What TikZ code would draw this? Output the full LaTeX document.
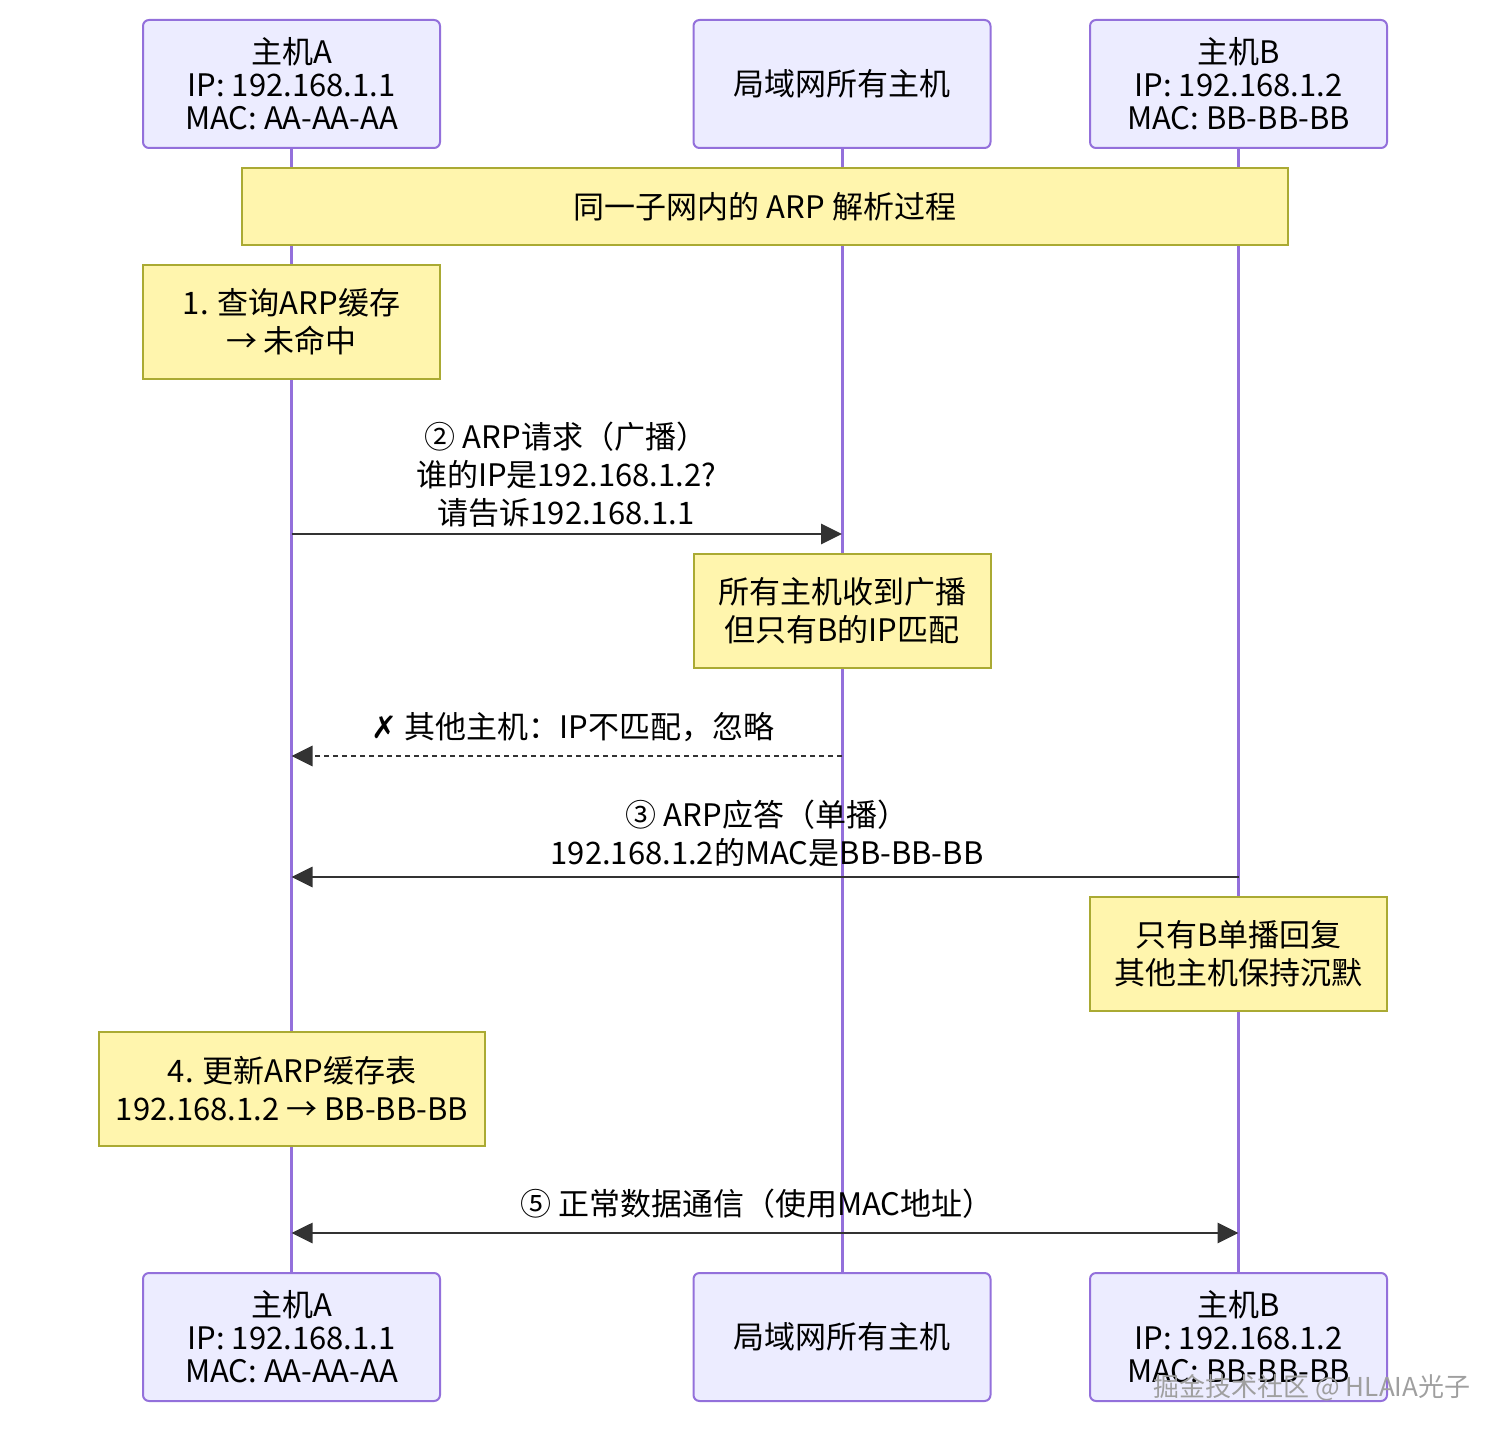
\documentclass[tikz,border=0pt]{standalone}
\usepackage{fontspec}
\setmainfont{Noto Sans CJK SC}
\newfontfamily\symfont{DejaVu Sans}
\usetikzlibrary{arrows.meta}
\definecolor{actorfill}{HTML}{ECECFF}
\definecolor{actorline}{HTML}{9370DB}
\definecolor{notefill}{HTML}{FFF5AD}
\definecolor{noteline}{HTML}{AAAA33}
\definecolor{msgline}{HTML}{333333}
\begin{document}
\begin{tikzpicture}[x=.5pt,y=-.5pt,font=\fontsize{15.5}{19}\selectfont,
actor/.style={draw=actorline,fill=actorfill,line width=1pt,rounded corners=3pt,minimum width=148.5pt,minimum height=64pt,align=center,inner sep=0pt,font=\fontsize{15.5}{16.5}\selectfont},
note/.style={draw=noteline,fill=notefill,line width=1pt,minimum width=148.5pt,minimum height=57pt,align=center,inner sep=0pt},
life/.style={draw=actorline,line width=1.5pt},
msg/.style={draw=msgline,line width=1.4pt,-{Triangle[length=10.5pt,width=10pt]}},
lbl/.style={align=center,inner sep=0pt}]
\useasboundingbox (0,0) rectangle (1502,1438);
\node[actor] (aTop) at (291.5,84) {主机A\\IP: 192.168.1.1\\MAC: AA-AA-AA};
\node[actor] (mTop) at (842,84) {局域网所有主机};
\node[actor] (bTop) at (1238.5,84) {主机B\\IP: 192.168.1.2\\MAC: BB-BB-BB};
\node[actor] (aBot) at (291.5,1337) {主机A\\IP: 192.168.1.1\\MAC: AA-AA-AA};
\node[actor] (mBot) at (842,1337) {局域网所有主机};
\node[actor] (bBot) at (1238.5,1337) {主机B\\IP: 192.168.1.2\\MAC: BB-BB-BB};
\foreach \n in {a,m,b}{\draw[life] (\n Top.south)--(\n Bot.north);}
\node[note,minimum width=523pt,minimum height=38.5pt] (title) at (765,206.5) {同一子网内的 ARP 解析过程};
\node[note] (n1) at (291.5,322) {1. 查询ARP缓存\\→ 未命中};
\node[note] (n2) at (842,611) {所有主机收到广播\\但只有B的IP匹配};
\node[note] (n3) at (1238.5,954) {只有B单播回复\\其他主机保持沉默};
\node[note,minimum width=193pt] (n4) at (292,1088.5) {4. 更新ARP缓存表\\192.168.1.2 → BB-BB-BB};
\coordinate (a2) at (aTop.south |- 0,534);\coordinate (m2) at (mTop.south |- 0,534);
\coordinate (m3) at (mTop.south |- 0,756);\coordinate (a3) at (aTop.south |- 0,756);
\coordinate (b4) at (bTop.south |- 0,877);\coordinate (a4) at (aTop.south |- 0,877);
\coordinate (a5) at (aTop.south |- 0,1233);\coordinate (b5) at (bTop.south |- 0,1233);
\draw[msg] (a2)--(m2);\draw[msg,dash pattern=on 2.5pt off 2pt] (m3)--(a3);
\draw[msg] (b4)--(a4);\draw[msg,{Triangle[length=10.5pt,width=10pt]}-{Triangle[length=10.5pt,width=10pt]}] (a5)--(b5);
\node[lbl] (l2) at (566,475) {② ARP请求（广播）\\谁的IP是192.168.1.2?\\请告诉192.168.1.1};
\node[lbl] (l3) at (573,727) {{\symfont ✗} 其他主机：IP不匹配，忽略};
\node[lbl] (l4) at (767,833) {③ ARP应答（单播）\\192.168.1.2的MAC是BB-BB-BB};
\node[lbl] (l5) at (757,1204) {⑤ 正常数据通信（使用MAC地址）};
\node[lbl,text=gray!75,font=\fontsize{13}{13}\selectfont] (wm) at (1312,1388) {掘金技术社区 @ HLAIA光子};
\end{tikzpicture}
\end{document}
